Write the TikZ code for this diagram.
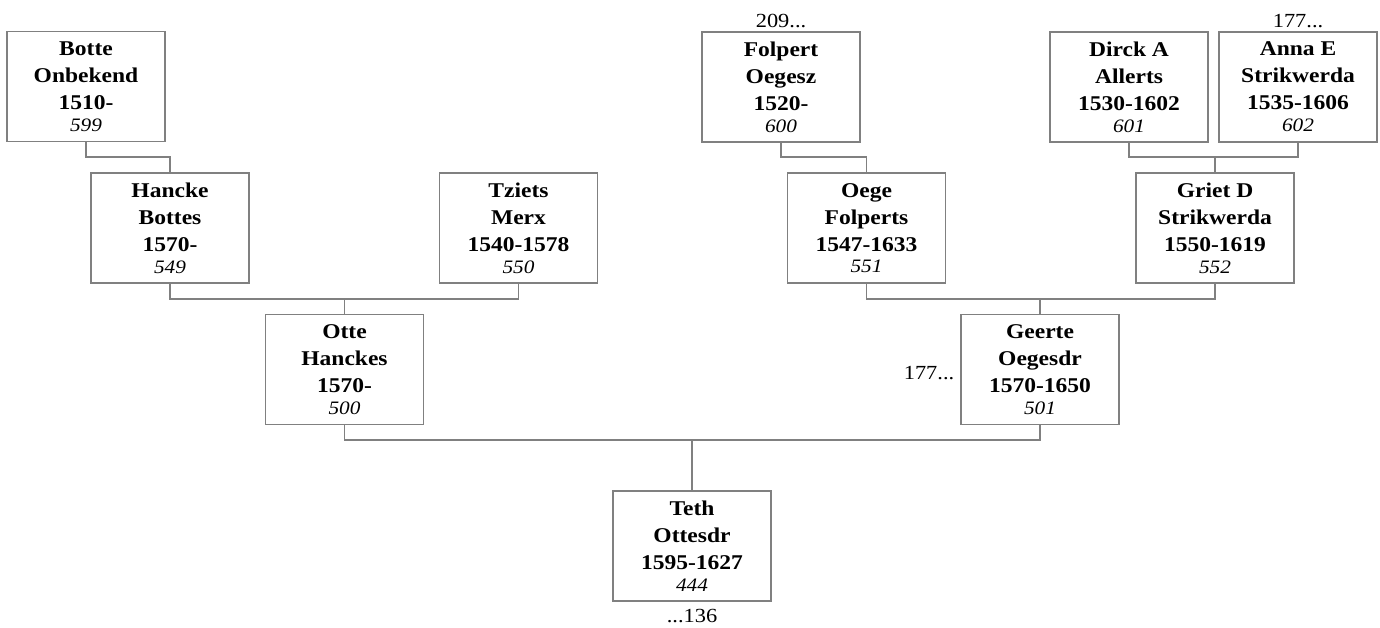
\documentclass[tikz,border=0pt]{standalone}
\usepackage{fontspec}
\setmainfont{Liberation Serif}[FakeStretch=1.12]
\begin{document}
\begin{tikzpicture}[x=1pt,y=-1pt,
  person/.style={draw=black!50,line width=1.2pt,rectangle,minimum width=158pt,minimum height=110pt,inner sep=0pt,align=center,
    font=\fontsize{21}{27}\selectfont\bfseries},
  lbl/.style={font=\fontsize{20}{24}\selectfont,inner sep=0pt},
  link/.style={draw=black!50,line width=1.2pt}]
\useasboundingbox (0,0) rectangle (1380,628);
\newcommand{\num}[1]{{\fontsize{19}{27}\selectfont\mdseries\itshape #1}}
% row 1
\node[person] (bot) at (86,86.5) {Botte\\Onbekend\\1510-\\[-5.3pt]\num{599}};
\node[person] (fol) at (781,87) {Folpert\\Oegesz\\1520-\\[-5.3pt]\num{600}};
\node[person] (dir) at (1129,87) {Dirck A\\Allerts\\1530-1602\\[-5.3pt]\num{601}};
\node[person] (ann) at (1298,87) {Anna E\\Strikwerda\\1535-1606\\[-5.3pt]\num{602}};
% row 2
\node[person] (han) at (170,228) {Hancke\\Bottes\\1570-\\[-5.3pt]\num{549}};
\node[person] (tzi) at (518.5,228) {Tziets\\Merx\\1540-1578\\[-5.3pt]\num{550}};
\node[person] (oeg) at (866.5,228) {Oege\\Folperts\\1547-1633\\[-5.3pt]\num{551}};
\node[person] (gri) at (1215,228) {Griet D\\Strikwerda\\1550-1619\\[-5.3pt]\num{552}};
% row 3
\node[person] (ott) at (344.5,369.5) {Otte\\Hanckes\\1570-\\[-5.3pt]\num{500}};
\node[person] (gee) at (1040,369.5) {Geerte\\Oegesdr\\1570-1650\\[-5.3pt]\num{501}};
% row 4
\node[person] (tet) at (692,546) {Teth\\Ottesdr\\1595-1627\\[-5.3pt]\num{444}};
% labels
\node[lbl,anchor=base] (l209) at ([yshift=4pt]fol.north) {209...};
\node[lbl,anchor=base] (l177a) at ([yshift=4pt]ann.north) {177...};
\node[lbl,anchor=base east] (l177b) at ([xshift=-6pt,yshift=-9.5pt]gee.west) {177...};
\node[lbl,anchor=base] (l136) at ([yshift=-21pt]tet.south) {...136};
% connectors
\draw[link] (bot.south) -- (bot.south |- 0,157) -| (han.north);
\draw[link] (fol.south) -- (fol.south |- 0,157) -| (oeg.north);
\draw[link] (dir.south) -- (dir.south |- 0,157) -| (ann.south);
\draw[link] (gri.north) -- (gri.north |- 0,157);
\draw[link] (han.south) -- (han.south |- 0,299) -| (tzi.south);
\draw[link] (ott.north) -- (ott.north |- 0,299);
\draw[link] (oeg.south) -- (oeg.south |- 0,299) -| (gri.south);
\draw[link] (gee.north) -- (gee.north |- 0,299);
\draw[link] (ott.south) -- (ott.south |- 0,440) -| (gee.south);
\draw[link] (tet.north) -- (tet.north |- 0,440);
\end{tikzpicture}
\end{document}
